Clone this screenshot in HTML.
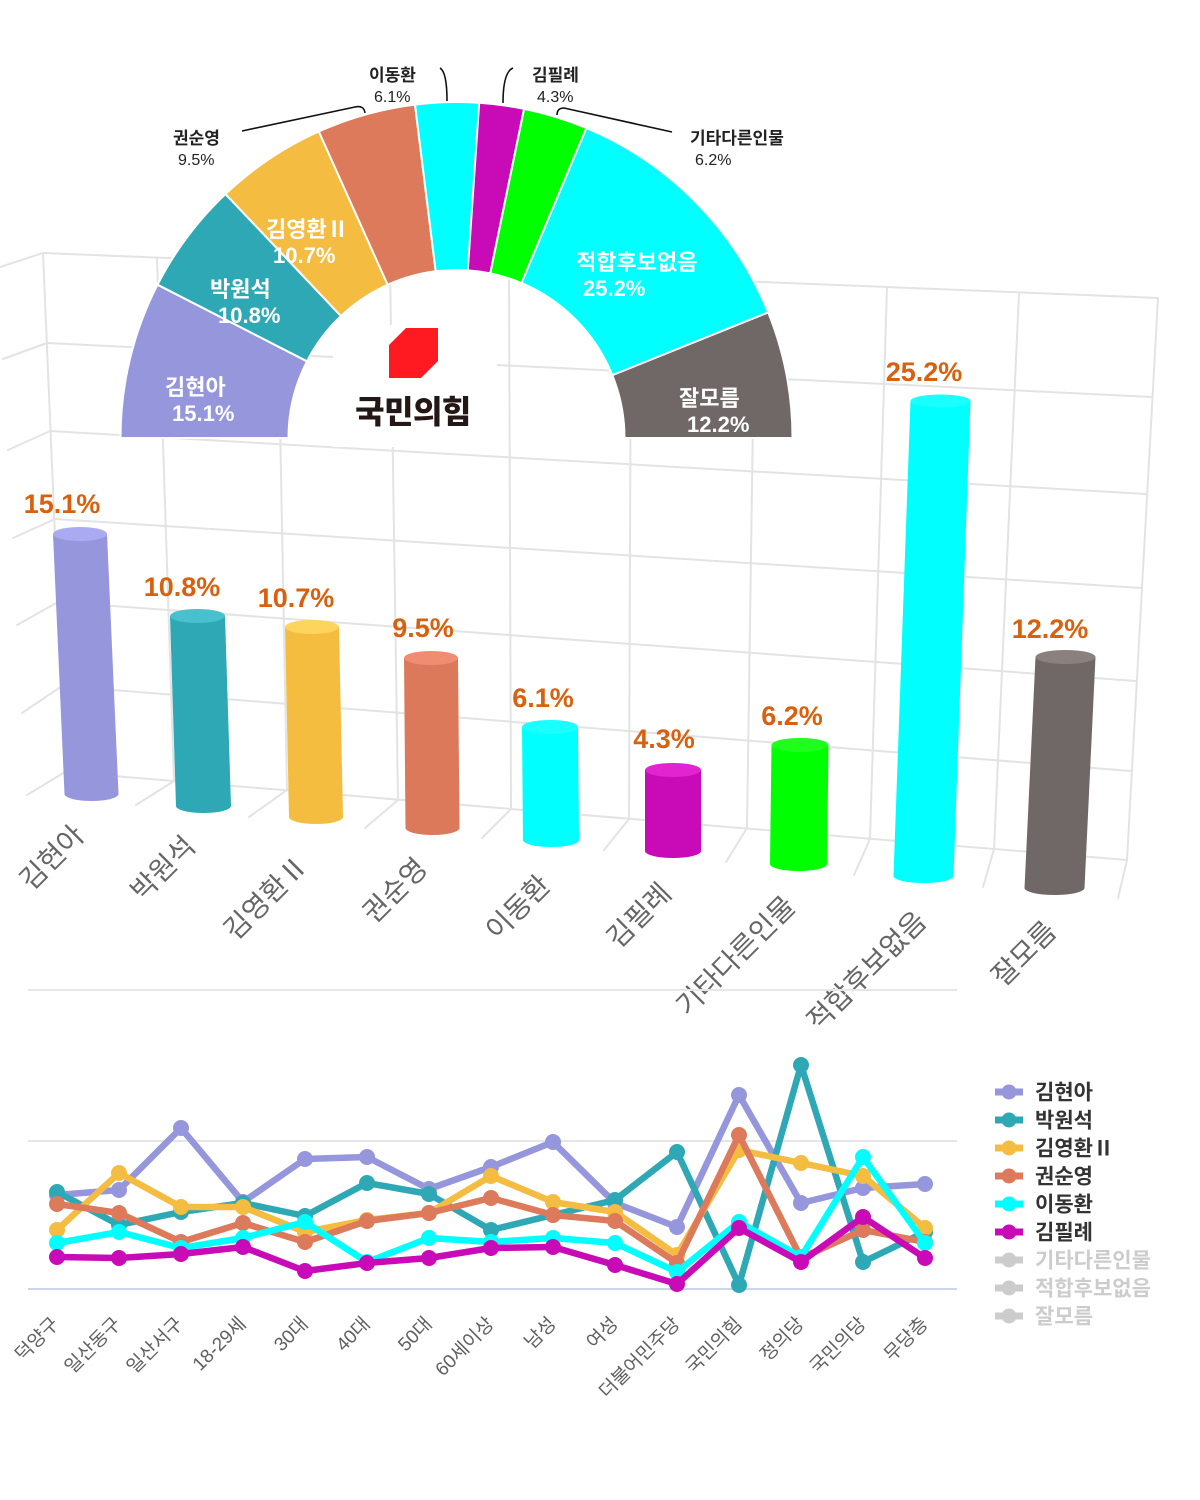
<!DOCTYPE html>
<html><head><meta charset="utf-8"><style>
html,body{margin:0;padding:0;background:#fff;}
svg{display:block;}
text{font-family:"Liberation Sans","Noto Sans CJK KR",sans-serif;}
</style></head><body>
<svg width="1200" height="1500" viewBox="0 0 1200 1500" xmlns="http://www.w3.org/2000/svg">
<rect width="1200" height="1500" fill="#fff"/>
<!-- 3D grid -->
<g stroke="#e3e3e3" stroke-width="2" fill="none" stroke-linecap="round">
<path d="M43,253 L1158,298 M47,343 L1152,397 M50,431 L1146,494 M55,519 L1141,588 M58,602 L1136,681 M62,686 L1131,771 M65,772 L1127,860"/>
<path d="M43,253 L65,772 M157,257.6 L174,781 M277,262.4 L287,790.4 M390,267 L398,799.6 M509,271.8 L511,809 M631,276.7 L629,818.7 M755,281.7 L747,828.5 M887,287.1 L870,838.7 M1019,292.4 L994,849 M1158,298 L1127,860"/>
<path d="M0,267 L43,253 M3,359 L47,343 M8,450 L50,431 M13,538 L55,519 M17,625 L58,602 M22,713 L62,686 M27,795 L65,772"/>
<path d="M174,781 L136,805 M287,790 L249,817 M398,800 L365,828 M511,809 L482,838 M629,819 L604,850 M747,828 L726,862 M870,839 L854,875 M994,849 L983,887 M1127,860 L1118,898"/>
</g>
<rect x="333" y="325" width="164" height="122" fill="#fff"/>
<!-- half donut -->
<g stroke="#fff" stroke-width="2" stroke-linejoin="round">
<path fill="#9696dc" d="M120.5,438 A336,336 0 0 1 157.5,284.7 L307.0,361.3 A168,168 0 0 0 288.5,438 Z"/>
<path fill="#2fa8b6" d="M157.5,284.7 A336,336 0 0 1 225.5,194.0 L341.0,316.0 A168,168 0 0 0 307.0,361.3 Z"/>
<path fill="#f4bc40" d="M225.5,194.0 A336,336 0 0 1 318.8,131.5 L387.7,284.8 A168,168 0 0 0 341.0,316.0 Z"/>
<path fill="#dc7a5b" d="M318.8,131.5 A336,336 0 0 1 415.0,104.6 L435.7,271.3 A168,168 0 0 0 387.7,284.8 Z"/>
<path fill="#00ffff" d="M415.0,104.6 A336,336 0 0 1 479.2,102.8 L467.8,270.4 A168,168 0 0 0 435.7,271.3 Z"/>
<path fill="#c80bb6" d="M479.2,102.8 A336,336 0 0 1 524.1,108.9 L490.3,273.4 A168,168 0 0 0 467.8,270.4 Z"/>
<path fill="#00ff00" d="M524.1,108.9 A336,336 0 0 1 586.4,128.1 L521.5,283.1 A168,168 0 0 0 490.3,273.4 Z"/>
<path fill="#00ffff" d="M586.4,128.1 A336,336 0 0 1 768.2,312.4 L612.3,375.2 A168,168 0 0 0 521.5,283.1 Z"/>
<path fill="#706866" d="M768.2,312.4 A336,336 0 0 1 792.5,438 L624.5,438 A168,168 0 0 0 612.3,375.2 Z"/>
</g>
<!-- logo -->
<path fill="#ff1a22" d="M406,328 L438,328 L438,361 L421,378 L389,378 L389,345 Z"/>
<text x="413" y="423" font-size="32" font-weight="900" fill="#231815" text-anchor="middle" letter-spacing="-0.5">국민의힘</text>
<!-- inside labels -->
<g fill="#fff" font-size="22" font-weight="bold">
<text x="165" y="395">김현아</text><text x="172" y="421">15.1%</text>
<text x="210" y="297">박원석</text><text x="218" y="323">10.8%</text>
<text x="266" y="237">김영환Ⅱ</text><text x="273" y="263">10.7%</text>
<text x="576" y="270">적합후보없음</text><text x="583" y="296">25.2%</text>
<text x="679" y="406">잘모름</text><text x="687" y="432">12.2%</text>
</g>
<!-- leader lines -->
<g stroke="#111" stroke-width="1.6" fill="none">
<path d="M242,131 L355,107 Q364,105 365,113"/>
<path d="M440,68 Q447,72 447,101"/>
<path d="M513,68 Q503,72 503,103"/>
<path d="M672,132 L564,108 Q557,108 557,115"/>
</g>
<g fill="#222">
<text x="369" y="81" font-size="17" font-weight="bold">이동환</text><text x="374" y="102" font-size="16">6.1%</text>
<text x="532" y="81" font-size="17" font-weight="bold">김필례</text><text x="537" y="102" font-size="16">4.3%</text>
<text x="173" y="144" font-size="17" font-weight="bold">권순영</text><text x="178" y="165" font-size="16">9.5%</text>
<text x="690" y="144" font-size="17" font-weight="bold">기타다른인물</text><text x="695" y="165" font-size="16">6.2%</text>
</g>
<!-- bars -->
<g>
<path fill="#9696dd" d="M53,534 L64.5,794 A27,7 0 0 0 118.5,794 L107,534 Z"/><ellipse cx="80" cy="534" rx="27" ry="7" fill="#aaaaf2"/>
<path fill="#2fa8b6" d="M170,616 L176,806 A27.5,7 0 0 0 231,806 L225,616 Z"/><ellipse cx="197.5" cy="616" rx="27.5" ry="7" fill="#48c0cd"/>
<path fill="#f4bd40" d="M285,627 L289,817 A27,7 0 0 0 343,817 L339,627 Z"/><ellipse cx="312" cy="627" rx="27" ry="7" fill="#fdd45c"/>
<path fill="#dc795b" d="M404,658 L405.5,828 A27,7 0 0 0 459.5,828 L458,658 Z"/><ellipse cx="431" cy="658" rx="27" ry="7" fill="#f08c72"/>
<path fill="#00ffff" d="M522,727 L523,840 A28,7 0 0 0 579,840 L578,727 Z"/><ellipse cx="550" cy="727" rx="28" ry="7" fill="#1affff"/>
<path fill="#c80bb6" d="M645,770 L645,851 A28,7 0 0 0 701,851 L701,770 Z"/><ellipse cx="673" cy="770" rx="28" ry="7" fill="#e024cf"/>
<path fill="#00ff00" d="M771.5,745 L770,864 A28.5,7 0 0 0 827,864 L828.5,745 Z"/><ellipse cx="800" cy="745" rx="28.5" ry="7" fill="#1eff1e"/>
<path fill="#00ffff" d="M910.5,401 L893.5,876 A30,7 0 0 0 953.5,876 L970.5,401 Z"/><ellipse cx="940.5" cy="401" rx="30" ry="6.5" fill="#1affff"/>
<path fill="#706866" d="M1035.5,657 L1024.5,888 A30,7 0 0 0 1084.5,888 L1095.5,657 Z"/><ellipse cx="1065.5" cy="657" rx="30" ry="7" fill="#8a817f"/>
</g>
<g fill="#d9600e" font-size="27" font-weight="bold" text-anchor="middle">
<text x="62" y="513">15.1%</text>
<text x="182" y="596">10.8%</text>
<text x="296" y="607">10.7%</text>
<text x="423" y="637">9.5%</text>
<text x="543" y="707">6.1%</text>
<text x="664" y="748">4.3%</text>
<text x="792" y="725">6.2%</text>
<text x="924" y="381">25.2%</text>
<text x="1050" y="638">12.2%</text>
</g>
<g fill="#666" font-size="28" text-anchor="end">
<text transform="translate(86,837) rotate(-45)">김현아</text>
<text transform="translate(197,848) rotate(-45)">박원석</text>
<text transform="translate(310,867) rotate(-45)">김영환Ⅱ</text>
<text transform="translate(429,870) rotate(-45)">권순영</text>
<text transform="translate(552,887) rotate(-45)">이동환</text>
<text transform="translate(673,895) rotate(-45)">김필례</text>
<text transform="translate(797,908) rotate(-45)">기타다른인물</text>
<text transform="translate(928,923) rotate(-45)">적합후보없음</text>
<text transform="translate(1058,933) rotate(-45)">잘모름</text>
</g>
<!-- line chart grid -->
<path d="M28,990 L957,990 M28,1141 L957,1141" stroke="#e6e6e6" stroke-width="2" fill="none"/>
<path d="M28,1289 L957,1289" stroke="#ccd6eb" stroke-width="2" fill="none"/>
<!-- series -->
<g fill="none" stroke-width="6.5" stroke-linejoin="round" stroke-linecap="round">
<polyline stroke="#9696dc" points="57,1195 119,1190 181,1128 243,1202 305,1159 367,1157 429,1189 491,1167 553,1142 615,1203 677,1227 739,1095 801,1203 863,1188 925,1184"/>
</g>
<g fill="#9696dc"><circle cx="57" cy="1195" r="8"/><circle cx="119" cy="1190" r="8"/><circle cx="181" cy="1128" r="8"/><circle cx="243" cy="1202" r="8"/><circle cx="305" cy="1159" r="8"/><circle cx="367" cy="1157" r="8"/><circle cx="429" cy="1189" r="8"/><circle cx="491" cy="1167" r="8"/><circle cx="553" cy="1142" r="8"/><circle cx="615" cy="1203" r="8"/><circle cx="677" cy="1227" r="8"/><circle cx="739" cy="1095" r="8"/><circle cx="801" cy="1203" r="8"/><circle cx="863" cy="1188" r="8"/><circle cx="925" cy="1184" r="8"/></g>
<g fill="none" stroke-width="6.5" stroke-linejoin="round" stroke-linecap="round">
<polyline stroke="#2fa8b6" points="57,1192 119,1225 181,1212 243,1203 305,1216 367,1183 429,1194 491,1230 553,1215 615,1200 677,1152 739,1285 801,1065 863,1262 925,1232"/>
</g>
<g fill="#2fa8b6"><circle cx="57" cy="1192" r="8"/><circle cx="119" cy="1225" r="8"/><circle cx="181" cy="1212" r="8"/><circle cx="243" cy="1203" r="8"/><circle cx="305" cy="1216" r="8"/><circle cx="367" cy="1183" r="8"/><circle cx="429" cy="1194" r="8"/><circle cx="491" cy="1230" r="8"/><circle cx="553" cy="1215" r="8"/><circle cx="615" cy="1200" r="8"/><circle cx="677" cy="1152" r="8"/><circle cx="739" cy="1285" r="8"/><circle cx="801" cy="1065" r="8"/><circle cx="863" cy="1262" r="8"/><circle cx="925" cy="1232" r="8"/></g>
<g fill="none" stroke-width="6.5" stroke-linejoin="round" stroke-linecap="round">
<polyline stroke="#f4bc40" points="57,1230 119,1173 181,1207 243,1207 305,1232 367,1220 429,1213 491,1176 553,1202 615,1212 677,1255 739,1150 801,1163 863,1176 925,1228"/>
</g>
<g fill="#f4bc40"><circle cx="57" cy="1230" r="8"/><circle cx="119" cy="1173" r="8"/><circle cx="181" cy="1207" r="8"/><circle cx="243" cy="1207" r="8"/><circle cx="305" cy="1232" r="8"/><circle cx="367" cy="1220" r="8"/><circle cx="429" cy="1213" r="8"/><circle cx="491" cy="1176" r="8"/><circle cx="553" cy="1202" r="8"/><circle cx="615" cy="1212" r="8"/><circle cx="677" cy="1255" r="8"/><circle cx="739" cy="1150" r="8"/><circle cx="801" cy="1163" r="8"/><circle cx="863" cy="1176" r="8"/><circle cx="925" cy="1228" r="8"/></g>
<g fill="none" stroke-width="6.5" stroke-linejoin="round" stroke-linecap="round">
<polyline stroke="#dc7a5b" points="57,1204 119,1213 181,1242 243,1223 305,1242 367,1221 429,1213 491,1198 553,1215 615,1221 677,1263 739,1135 801,1258 863,1230 925,1242"/>
</g>
<g fill="#dc7a5b"><circle cx="57" cy="1204" r="8"/><circle cx="119" cy="1213" r="8"/><circle cx="181" cy="1242" r="8"/><circle cx="243" cy="1223" r="8"/><circle cx="305" cy="1242" r="8"/><circle cx="367" cy="1221" r="8"/><circle cx="429" cy="1213" r="8"/><circle cx="491" cy="1198" r="8"/><circle cx="553" cy="1215" r="8"/><circle cx="615" cy="1221" r="8"/><circle cx="677" cy="1263" r="8"/><circle cx="739" cy="1135" r="8"/><circle cx="801" cy="1258" r="8"/><circle cx="863" cy="1230" r="8"/><circle cx="925" cy="1242" r="8"/></g>
<g fill="none" stroke-width="6.5" stroke-linejoin="round" stroke-linecap="round">
<polyline stroke="#00ffff" points="57,1243 119,1232 181,1248 243,1238 305,1222 367,1262 429,1238 491,1242 553,1238 615,1243 677,1272 739,1222 801,1257 863,1157 925,1243"/>
</g>
<g fill="#00ffff"><circle cx="57" cy="1243" r="8"/><circle cx="119" cy="1232" r="8"/><circle cx="181" cy="1248" r="8"/><circle cx="243" cy="1238" r="8"/><circle cx="305" cy="1222" r="8"/><circle cx="367" cy="1262" r="8"/><circle cx="429" cy="1238" r="8"/><circle cx="491" cy="1242" r="8"/><circle cx="553" cy="1238" r="8"/><circle cx="615" cy="1243" r="8"/><circle cx="677" cy="1272" r="8"/><circle cx="739" cy="1222" r="8"/><circle cx="801" cy="1257" r="8"/><circle cx="863" cy="1157" r="8"/><circle cx="925" cy="1243" r="8"/></g>
<g fill="none" stroke-width="6.5" stroke-linejoin="round" stroke-linecap="round">
<polyline stroke="#c80bb6" points="57,1257 119,1258 181,1254 243,1247 305,1271 367,1263 429,1258 491,1248 553,1247 615,1265 677,1284 739,1228 801,1262 863,1217 925,1258"/>
</g>
<g fill="#c80bb6"><circle cx="57" cy="1257" r="8"/><circle cx="119" cy="1258" r="8"/><circle cx="181" cy="1254" r="8"/><circle cx="243" cy="1247" r="8"/><circle cx="305" cy="1271" r="8"/><circle cx="367" cy="1263" r="8"/><circle cx="429" cy="1258" r="8"/><circle cx="491" cy="1248" r="8"/><circle cx="553" cy="1247" r="8"/><circle cx="615" cy="1265" r="8"/><circle cx="677" cy="1284" r="8"/><circle cx="739" cy="1228" r="8"/><circle cx="801" cy="1262" r="8"/><circle cx="863" cy="1217" r="8"/><circle cx="925" cy="1258" r="8"/></g>
<!-- line chart x labels -->
<g fill="#606060" font-size="19" text-anchor="end">
<text transform="translate(60,1325) rotate(-45)">덕양구</text>
<text transform="translate(122,1325) rotate(-45)">일산동구</text>
<text transform="translate(184,1325) rotate(-45)">일산서구</text>
<text transform="translate(247,1325) rotate(-45)">18-29세</text>
<text transform="translate(309,1325) rotate(-45)">30대</text>
<text transform="translate(371,1325) rotate(-45)">40대</text>
<text transform="translate(433,1325) rotate(-45)">50대</text>
<text transform="translate(495,1325) rotate(-45)">60세이상</text>
<text transform="translate(557,1325) rotate(-45)">남성</text>
<text transform="translate(619,1325) rotate(-45)">여성</text>
<text transform="translate(681,1325) rotate(-45)">더불어민주당</text>
<text transform="translate(743,1325) rotate(-45)">국민의힘</text>
<text transform="translate(805,1325) rotate(-45)">정의당</text>
<text transform="translate(867,1325) rotate(-45)">국민의당</text>
<text transform="translate(929,1325) rotate(-45)">무당층</text>
</g>
<!-- legend -->
<g stroke-width="7">
<line x1="995" y1="1092" x2="1023" y2="1092" stroke="#9696dc"/><circle cx="1009" cy="1092" r="7.5" fill="#9696dc" stroke="none"/>
<line x1="995" y1="1120" x2="1023" y2="1120" stroke="#2fa8b6"/><circle cx="1009" cy="1120" r="7.5" fill="#2fa8b6" stroke="none"/>
<line x1="995" y1="1148" x2="1023" y2="1148" stroke="#f4bc40"/><circle cx="1009" cy="1148" r="7.5" fill="#f4bc40" stroke="none"/>
<line x1="995" y1="1176" x2="1023" y2="1176" stroke="#dc7a5b"/><circle cx="1009" cy="1176" r="7.5" fill="#dc7a5b" stroke="none"/>
<line x1="995" y1="1204" x2="1023" y2="1204" stroke="#00ffff"/><circle cx="1009" cy="1204" r="7.5" fill="#00ffff" stroke="none"/>
<line x1="995" y1="1232" x2="1023" y2="1232" stroke="#c80bb6"/><circle cx="1009" cy="1232" r="7.5" fill="#c80bb6" stroke="none"/>
<line x1="995" y1="1260" x2="1023" y2="1260" stroke="#cccccc"/><circle cx="1009" cy="1260" r="7.5" fill="#cccccc" stroke="none"/>
<line x1="995" y1="1288" x2="1023" y2="1288" stroke="#cccccc"/><circle cx="1009" cy="1288" r="7.5" fill="#cccccc" stroke="none"/>
<line x1="995" y1="1316" x2="1023" y2="1316" stroke="#cccccc"/><circle cx="1009" cy="1316" r="7.5" fill="#cccccc" stroke="none"/>
</g>
<g font-size="21" font-weight="bold">
<text x="1035" y="1099.5" fill="#333">김현아</text>
<text x="1035" y="1127.5" fill="#333">박원석</text>
<text x="1035" y="1155.5" fill="#333">김영환Ⅱ</text>
<text x="1035" y="1183.5" fill="#333">권순영</text>
<text x="1035" y="1211.5" fill="#333">이동환</text>
<text x="1035" y="1239.5" fill="#333">김필례</text>
<text x="1035" y="1267.5" fill="#cccccc">기타다른인물</text>
<text x="1035" y="1295.5" fill="#cccccc">적합후보없음</text>
<text x="1035" y="1323.5" fill="#cccccc">잘모름</text>
</g>
</svg>
</body></html>
